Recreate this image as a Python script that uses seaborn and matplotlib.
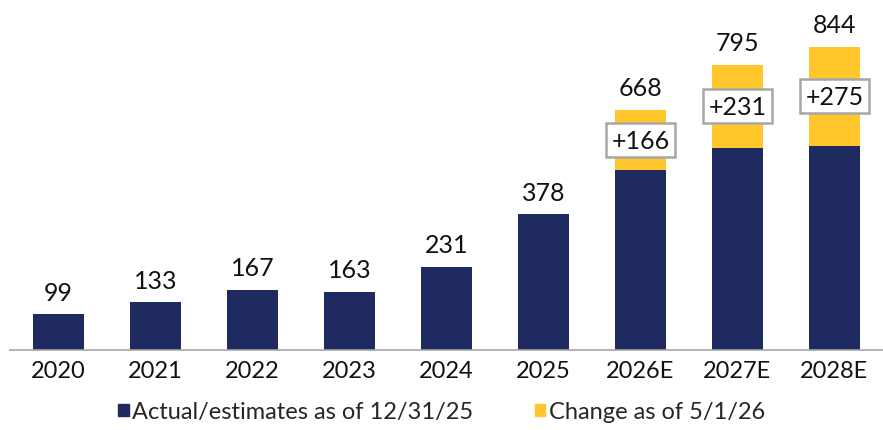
import numpy as np
import pandas as pd
import seaborn as sns
import matplotlib.pyplot as plt
from matplotlib.patches import Patch

# ── Data ────────────────────────────────────────────────────────────────────
years   = ['2020', '2021', '2022', '2023', '2024', '2025', '2026E', '2027E', '2028E']
base    = [99, 133, 167, 163, 231, 378, 502, 564, 569]
change  = [0, 0, 0, 0, 0, 0, 166, 231, 275]
totals  = [b + c for b, c in zip(base, change)]

NAVY   = '#1F2A60'
YELLOW = '#FFC72C'

sns.set_theme(style='white')
plt.rcParams['font.family'] = ['Lato', 'DejaVu Sans']

df = pd.DataFrame({'year': years, 'base': base, 'total': totals})

fig = plt.figure(figsize=(8.83, 4.31), dpi=100)
ax = fig.add_axes([0.0113, 0.1856, 0.9887, 0.8144])

# totals first in yellow, base drawn on top in navy
sns.barplot(data=df, x='year', y='total', color=YELLOW, width=0.53,
            saturation=1, linewidth=0, ax=ax)
sns.barplot(data=df, x='year', y='base', color=NAVY, width=0.53,
            saturation=1, linewidth=0, ax=ax)

ax.set_xlim(-0.5, 8.5)
ax.set_ylim(0, 978)

for i, t in enumerate(totals):
    ax.text(i, t + 30, f'{t}', ha='center', va='bottom', fontsize=18, color='#111111')

for i, (b, c) in enumerate(zip(base, change)):
    if c > 0:
        ax.text(i, b + c / 2, f'+{c}', ha='center', va='center', fontsize=18,
                color='#111111',
                bbox=dict(boxstyle='square,pad=0.22', fc='white', ec='#a6a6a6', lw=1.8))

ax.set_xlabel('')
ax.set_ylabel('')
ax.set_yticks([])
ax.tick_params(axis='x', labelsize=17, colors='#111111', length=0, pad=7)
for s in ['top', 'right', 'left']:
    ax.spines[s].set_visible(False)
ax.spines['bottom'].set_color('#a6a6a6')
ax.spines['bottom'].set_linewidth(1.2)

handles = [Patch(color=NAVY, label='Actual/estimates as of 12/31/25'),
           Patch(color=YELLOW, label='Change as of 5/1/26')]
fig.legend(handles=handles, loc='center', bbox_to_anchor=(0.5, 0.042), ncol=2,
           frameon=False, fontsize=17, handlelength=0.45, handleheight=0.45,
           handletextpad=0.15, columnspacing=2.6)

fig.savefig('out.png', dpi=100)
